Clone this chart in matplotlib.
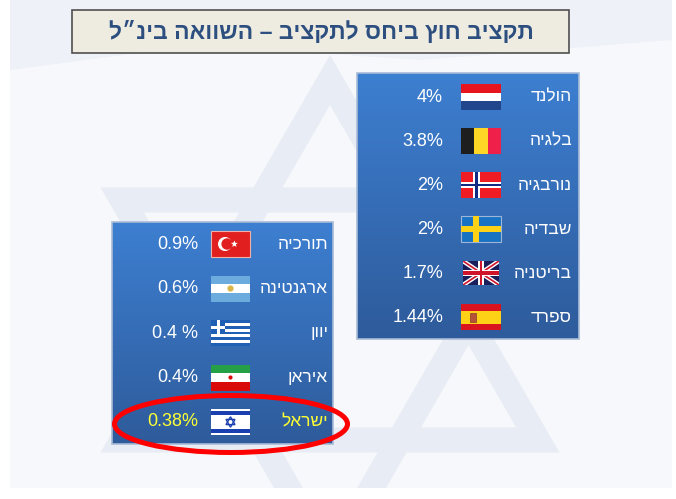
import numpy as np
import matplotlib
matplotlib.use("Agg")
import matplotlib.pyplot as plt
from matplotlib.patches import Rectangle, Ellipse, Polygon, Circle
from matplotlib.colors import LinearSegmentedColormap

plt.rcParams['font.family'] = ['Liberation Sans', 'DejaVu Sans']

title = "תקציב חוץ ביחס לתקציב – השוואה בינ״ל"

# right panel
right_names = ["הולנד", "בלגיה", "נורבגיה", "שבדיה", "בריטניה", "ספרד"]
right_vals = ["4%", "3.8%", "2%", "2%", "1.7%", "1.44%"]
right_flags = ["nl", "be", "no", "se", "uk", "es"]

# left panel
left_names = ["תורכיה", "ארגנטינה", "יוון", "איראן", "ישראל"]
left_vals = ["0.9%", "0.6%", "0.4 %", "0.4%", "0.38%"]
left_flags = ["tr", "ar", "gr", "ir", "il"]

highlight = "ישראל"


def heb(s):
    # matplotlib has no bidi, so give it visual order
    return s[::-1]


fig = plt.figure(figsize=(6.76, 4.99), dpi=100)
ax = fig.add_axes([0, 0, 1, 1])
ax.set_xlim(0, 676)
ax.set_ylim(499, 0)
ax.axis("off")

# ---- background (faint waving flag) ----
bg = Rectangle((10, 0), 662, 488, facecolor="#f6f8fb", edgecolor="none", zorder=0)
ax.add_patch(bg)
faint = "#e8ecf4"
cx, cy, r = 330, 320, 240
for off in (90, 270):
    ang = np.deg2rad(np.array([0, 120, 240]) + off)
    tri = np.column_stack([cx + r * np.cos(ang), cy + r * np.sin(ang)])
    p = Polygon(tri, closed=True, fill=False, edgecolor=faint, lw=18, zorder=0.5)
    ax.add_patch(p)
    p.set_clip_path(bg)
band = Polygon([[10, 70], [200, 45], [420, 60], [672, 40], [672, 0], [10, 0]],
               facecolor="#eef1f8", edgecolor="none", zorder=0.4)
ax.add_patch(band)

# ---- title ----
ax.add_patch(Rectangle((72, 10), 497, 43, facecolor="#eeebe0",
                       edgecolor="#505050", lw=1.2, zorder=2))
ax.text(321, 32, heb(title), ha="center", va="center", fontsize=16.5,
        fontweight="bold", color="#2c4f80", zorder=3)

cmap = LinearSegmentedColormap.from_list("panel", ["#3d7fd1", "#2e5b9b"])


def panel(x0, y0, x1, y1):
    grad = np.linspace(0, 1, 256).reshape(-1, 1)
    ax.imshow(grad, cmap=cmap, extent=(x0, x1, y1, y0), aspect="auto", zorder=2)
    ax.add_patch(Rectangle((x0, y0), x1 - x0, y1 - y0, fill=False,
                           edgecolor="#a9bbd6", lw=1.2, zorder=2.1))


def hstripes(x, y, w, h, cols, weights=None):
    if weights is None:
        weights = [1] * len(cols)
    tot = sum(weights)
    yy = y
    for c, wt in zip(cols, weights):
        hh = h * wt / tot
        ax.add_patch(Rectangle((x, yy), w, hh, facecolor=c, edgecolor="none", zorder=4))
        yy += hh


def flag(code, x, y, w, h):
    z = 4
    if code == "nl":
        hstripes(x, y, w, h, ["#e8141d", "#ffffff", "#21468b"])
    elif code == "be":
        for i, c in enumerate(["#1e1e1e", "#fdd626", "#ef2049"]):
            ax.add_patch(Rectangle((x + i * w / 3, y), w / 3, h, facecolor=c, edgecolor="none", zorder=z))
    elif code == "no":
        ax.add_patch(Rectangle((x, y), w, h, facecolor="#ef1c24", edgecolor="none", zorder=z))
        vx = x + w * 0.30
        ax.add_patch(Rectangle((vx, y), w * 0.18, h, facecolor="white", edgecolor="none", zorder=z))
        ax.add_patch(Rectangle((x, y + h * 0.38), w, h * 0.24, facecolor="white", edgecolor="none", zorder=z))
        ax.add_patch(Rectangle((vx + w * 0.055, y), w * 0.07, h, facecolor="#112a84", edgecolor="none", zorder=z + 0.1))
        ax.add_patch(Rectangle((x, y + h * 0.45), w, h * 0.10, facecolor="#112a84", edgecolor="none", zorder=z + 0.1))
    elif code == "se":
        ax.add_patch(Rectangle((x, y), w, h, facecolor="#1a72c2", edgecolor="#9fb6d8", lw=0.8, zorder=z))
        ax.add_patch(Rectangle((x + w * 0.31, y), w * 0.14, h, facecolor="#fcd116", edgecolor="none", zorder=z))
        ax.add_patch(Rectangle((x, y + h * 0.40), w, h * 0.20, facecolor="#fcd116", edgecolor="none", zorder=z))
    elif code == "uk":
        bg_ = Rectangle((x, y), w, h, facecolor="#1a1f5c", edgecolor="none", zorder=z)
        ax.add_patch(bg_)
        for (a, b) in [((x, y), (x + w, y + h)), ((x, y + h), (x + w, y))]:
            l1, = ax.plot([a[0], b[0]], [a[1], b[1]], color="white", lw=3.2, zorder=z + 0.1, solid_capstyle="butt")
            l2, = ax.plot([a[0], b[0]], [a[1], b[1]], color="#cf142b", lw=1.2, zorder=z + 0.2, solid_capstyle="butt")
            l1.set_clip_path(bg_)
            l2.set_clip_path(bg_)
        ax.add_patch(Rectangle((x + w * 0.42, y), w * 0.16, h, facecolor="white", edgecolor="none", zorder=z + 0.3))
        ax.add_patch(Rectangle((x, y + h * 0.36), w, h * 0.28, facecolor="white", edgecolor="none", zorder=z + 0.3))
        ax.add_patch(Rectangle((x + w * 0.46, y), w * 0.08, h, facecolor="#cf142b", edgecolor="none", zorder=z + 0.4))
        ax.add_patch(Rectangle((x, y + h * 0.43), w, h * 0.14, facecolor="#cf142b", edgecolor="none", zorder=z + 0.4))
    elif code == "es":
        hstripes(x, y, w, h, ["#d9141e", "#fcd116", "#d9141e"], [1, 2, 1])
        ax.add_patch(Rectangle((x + w * 0.22, y + h * 0.33), w * 0.16, h * 0.36,
                               facecolor="#b5533a", edgecolor="#8b3a2a", lw=0.5, zorder=z + 0.1))
    elif code == "tr":
        ax.add_patch(Rectangle((x, y), w, h, facecolor="#e11f1f", edgecolor="#f0b0a8", lw=0.8, zorder=z))
        cxx, cyy = x + w * 0.36, y + h / 2
        ax.add_patch(Circle((cxx, cyy), h * 0.27, facecolor="white", edgecolor="none", zorder=z + 0.1))
        ax.add_patch(Circle((cxx + h * 0.08, cyy), h * 0.22, facecolor="#e11f1f", edgecolor="none", zorder=z + 0.2))
        ang = np.deg2rad(np.arange(5) * 144 - 90)
        sx, sy = x + w * 0.6, cyy
        rr = h * 0.12
        ax.add_patch(Polygon(np.column_stack([sx + rr * np.cos(ang), sy + rr * np.sin(ang)]),
                             closed=True, facecolor="white", edgecolor="white", lw=0.3, zorder=z + 0.3))
    elif code == "ar":
        hstripes(x, y, w, h, ["#6cabdd", "#ffffff", "#6cabdd"])
        ax.add_patch(Circle((x + w / 2, y + h / 2), h * 0.12, facecolor="#d8b64a", edgecolor="none", zorder=z + 0.1))
    elif code == "gr":
        cols = ["#1f5fb4" if i % 2 == 0 else "#ffffff" for i in range(9)]
        hstripes(x, y, w, h, cols)
        ax.add_patch(Rectangle((x, y), w * 0.37, h * 5 / 9, facecolor="#1f5fb4", edgecolor="none", zorder=z + 0.1))
        ax.add_patch(Rectangle((x + w * 0.15, y), w * 0.07, h * 5 / 9, facecolor="white", edgecolor="none", zorder=z + 0.2))
        ax.add_patch(Rectangle((x, y + h * 2 / 9), w * 0.37, h / 9, facecolor="white", edgecolor="none", zorder=z + 0.2))
    elif code == "ir":
        hstripes(x, y, w, h, ["#26a046", "#ffffff", "#da0a0a"])
        ax.add_patch(Circle((x + w / 2, y + h / 2), h * 0.08, facecolor="#da0a0a", edgecolor="none", zorder=z + 0.1))
    elif code == "il":
        hstripes(x, y, w, h, ["#ffffff", "#1a3fb0", "#ffffff", "#ffffff", "#ffffff", "#1a3fb0", "#ffffff"],
                 [1, 1.3, 1.5, 3, 1.5, 1.3, 1])
        sx, sy, rr = x + w / 2, y + h / 2, h * 0.2
        for off in (-90, 90):
            ang = np.deg2rad(np.array([0, 120, 240]) + off)
            ax.add_patch(Polygon(np.column_stack([sx + rr * np.cos(ang), sy + rr * np.sin(ang)]),
                                 closed=True, fill=False, edgecolor="#1a3fb0", lw=1.0, zorder=z + 0.1))


def rows(names, vals, flags, y0, dy, name_x, val_x, flag_x, fw, fh):
    for i, (n, v, f) in enumerate(zip(names, vals, flags)):
        yc = y0 + i * dy
        col = "#ffff33" if n == highlight else "white"
        ax.text(name_x, yc, heb(n), ha="right", va="center", fontsize=12.5, color=col, zorder=5)
        ax.text(val_x, yc, v, ha="right", va="center", fontsize=13, color=col, zorder=5)
        if f == "uk":
            flag(f, flag_x + 2, yc - fh / 2 + 1, fw - 4, fh - 2)
        else:
            flag(f, flag_x, yc - fh / 2, fw, fh)


panel(357, 73, 579, 339)
rows(right_names, right_vals, right_flags, 97, 44, 572, 443, 461, 40, 26)

panel(112, 222, 333, 444)
rows(left_names, left_vals, left_flags, 244, 44.5, 328, 198, 211, 39, 26)

ax.add_patch(Ellipse((231, 424), 233, 57, fill=False, edgecolor="#ff0000", lw=3.6, zorder=6))

fig.savefig("out.png", dpi=100)
